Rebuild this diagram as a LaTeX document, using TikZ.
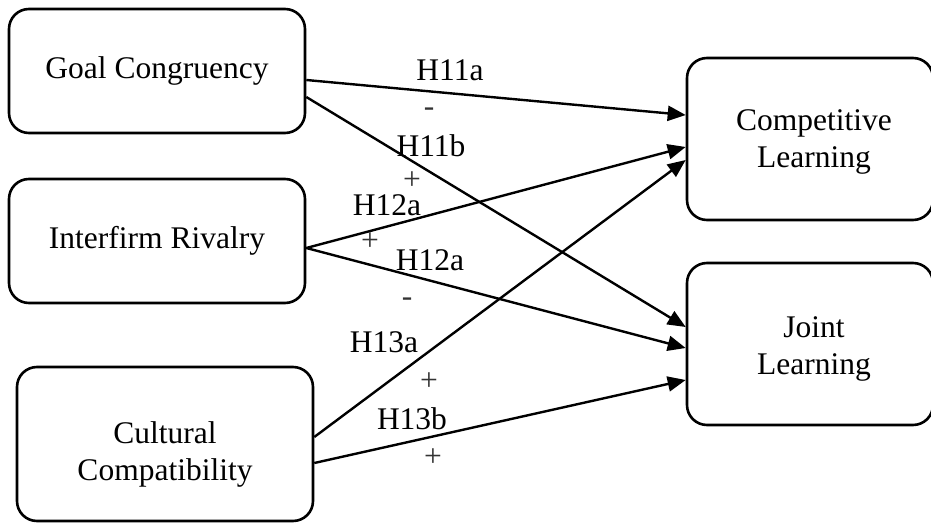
\documentclass[tikz,border=0pt]{standalone}
\usepackage{fontspec}
\setmainfont{Liberation Serif}
\usetikzlibrary{arrows.meta,calc}

\tikzset{
  factor/.style={draw=black, line width=2.6pt, rounded corners=20pt,
    inner sep=0pt, align=center, font=\fontsize{31.5}{38}\selectfont},
  caption/.style={inner sep=0pt, align=center, font=\fontsize{31.5}{37}\selectfont},
  hyp/.style={inner sep=0pt, anchor=base, font=\fontsize{31.5}{38}\selectfont},
  sign/.style={inner sep=0pt, anchor=base, text=black!80, font=\fontsize{31.5}{38}\selectfont},
  link/.style={line width=2.4pt, -{Triangle[length=18pt,width=15pt]}}
}

\begin{document}
\begin{tikzpicture}[x=1pt,y=-1pt]
  \useasboundingbox (0,0) rectangle (931,529);
  \clip (0,0) rectangle (931,529);

  % antecedent boxes
  \node[factor, minimum width=296pt, minimum height=124pt] (gc) at (157,71) {Goal Congruency};
  \node[factor, minimum width=296pt, minimum height=124pt] (ir) at (157,241) {Interfirm Rivalry};
  \node[factor, minimum width=296pt, minimum height=154pt] (cc) at (165,444) {};
  \node[caption] (cctext) at (165,454) {Cultural\\Compatibility};

  % outcome boxes
  \node[factor, minimum width=246pt, minimum height=162pt] (cl) at (810,139) {};
  \node[caption] (cltext) at (814,142) {Competitive\\Learning};
  \node[factor, minimum width=246pt, minimum height=162pt] (jl) at (810,344) {};
  \node[caption] (jltext) at (814,349) {Joint\\Learning};

  % hypothesised paths
  \draw[link] ($(gc.east)+(0,9)$)  -- ($(cl.west)+(0,-24)$);
  \draw[link] ($(gc.east)+(0,26)$) -- ($(jl.west)+(0,-17)$);
  \draw[link] ($(ir.east)+(0,7)$)  -- ($(cl.west)+(0,8)$);
  \draw[link] ($(ir.east)+(0,7)$)  -- ($(jl.west)+(0,4)$);
  \draw[link] ($(cc.east)+(0,-7)$) -- ($(cl.west)+(0,21)$);
  \draw[link] ($(cc.east)+(0,19)$) -- ($(jl.west)+(0,36)$);

  % path labels and signs
  \node[hyp]  (h11a) at (450,81)  {H11a};
  \node[sign] (s11a) at (429,117) {-};
  \node[hyp]  (h11b) at (431,157) {H11b};
  \node[sign] (s11b) at (412,190) {+};
  \node[hyp]  (h12a) at (387,216) {H12a};
  \node[sign] (s12a) at (370,251) {+};
  \node[hyp]  (h12b) at (430,271) {H12a};
  \node[sign] (s12b) at (407,306) {-};
  \node[hyp]  (h13a) at (384,352) {H13a};
  \node[sign] (s13a) at (429,390) {+};
  \node[hyp]  (h13b) at (412,429) {H13b};
  \node[sign] (s13b) at (433,466) {+};
\end{tikzpicture}
\end{document}
